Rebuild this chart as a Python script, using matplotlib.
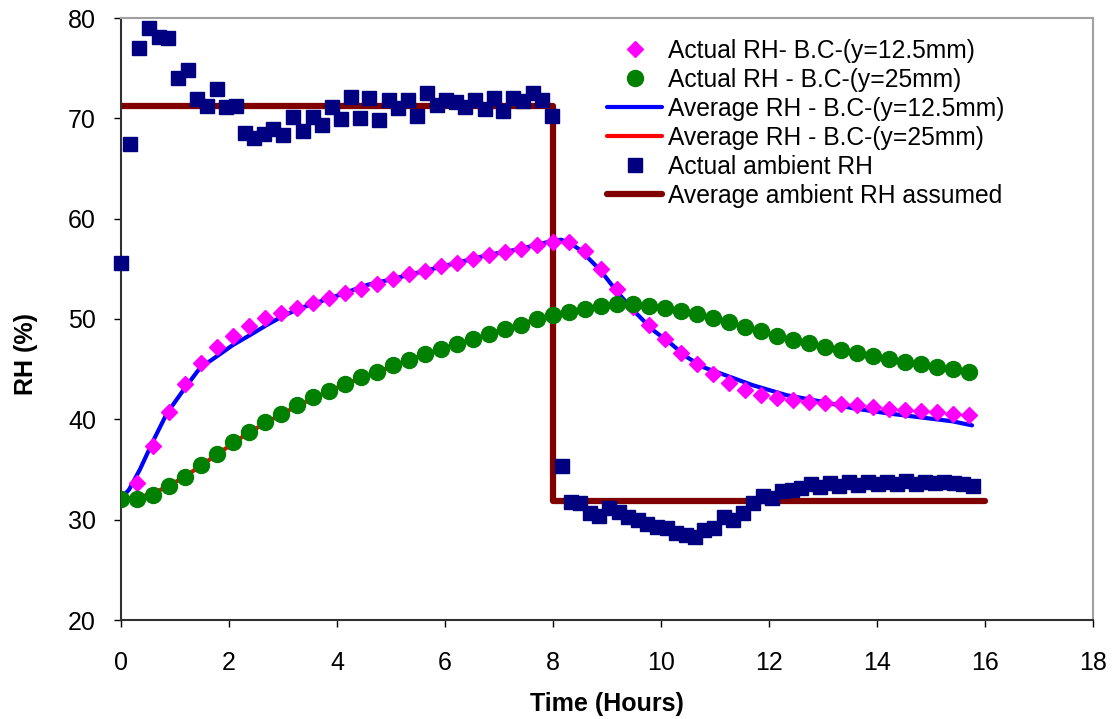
import numpy as np
import matplotlib.pyplot as plt

plt.rcParams['font.family'] = ['Liberation Sans', 'DejaVu Sans']

# Tiempos de las mediciones en los bordes (horas)
t_bc = [0.00, 0.30, 0.59, 0.89, 1.19, 1.48, 1.78, 2.07, 2.37, 2.67, 2.96, 3.26, 3.56, 3.85,
        4.15, 4.44, 4.74, 5.04, 5.33, 5.63, 5.93, 6.22, 6.52, 6.81, 7.11, 7.41, 7.70, 8.00,
        8.30, 8.59, 8.89, 9.19, 9.48, 9.78, 10.07, 10.37, 10.67, 10.96, 11.26, 11.56, 11.85,
        12.15, 12.44, 12.74, 13.04, 13.33, 13.63, 13.93, 14.22, 14.52, 14.81, 15.11, 15.41, 15.70]

rh_125 = [32.1, 33.7, 37.3, 40.7, 43.5, 45.6, 47.2, 48.3, 49.3, 50.1, 50.6, 51.1, 51.6, 52.1,
          52.6, 53.0, 53.5, 54.0, 54.5, 54.8, 55.3, 55.6, 56.0, 56.4, 56.7, 57.0, 57.4, 57.7,
          57.7, 56.8, 55.0, 53.0, 51.2, 49.4, 48.0, 46.6, 45.5, 44.5, 43.6, 42.9, 42.4, 42.1,
          41.9, 41.7, 41.6, 41.5, 41.4, 41.2, 41.0, 40.9, 40.8, 40.7, 40.5, 40.4]

rh_25 = [32.1, 32.1, 32.5, 33.4, 34.3, 35.4, 36.5, 37.7, 38.7, 39.7, 40.5, 41.4, 42.2, 42.8,
         43.5, 44.2, 44.7, 45.4, 45.9, 46.5, 47.0, 47.5, 48.0, 48.5, 49.0, 49.4, 50.0, 50.4,
         50.7, 51.0, 51.3, 51.5, 51.5, 51.3, 51.1, 50.8, 50.5, 50.1, 49.7, 49.2, 48.8, 48.3,
         47.9, 47.6, 47.2, 46.9, 46.6, 46.3, 46.0, 45.7, 45.5, 45.2, 45.0, 44.7]

# Promedio modelado (curvas continuas)
t_avg_125 = [0.0, 0.15, 0.35, 0.6, 0.85, 1.18, 1.46, 1.78, 2.07, 2.39, 2.7, 3.0, 3.33, 3.94,
             4.56, 5.04, 5.63, 6.22, 6.81, 7.41, 7.7, 8.0, 8.15, 8.3, 8.5, 8.87, 9.19, 9.48,
             9.85, 10.17, 10.48, 10.78, 11.09, 11.7, 12.33, 12.94, 13.56, 14.19, 14.8, 15.4, 15.76]
avg_125 = [32.1, 33.0, 35.0, 37.9, 40.6, 43.1, 45.1, 46.3, 47.4, 48.4, 49.4, 50.3, 51.1, 52.2,
           53.4, 54.0, 54.8, 55.6, 56.4, 57.0, 57.4, 57.8, 57.9, 57.6, 56.9, 54.9, 52.7, 50.9,
           48.9, 47.6, 46.2, 45.2, 44.6, 43.4, 42.4, 41.8, 41.1, 40.6, 40.2, 39.8, 39.4]

avg_25 = [32.1, 32.2, 32.6, 33.4, 34.3, 35.4, 36.5, 37.6, 38.7, 39.6, 40.5, 41.3, 42.1, 42.8,
          43.5, 44.1, 44.7, 45.3, 45.9, 46.5, 47.0, 47.5, 48.0, 48.5, 49.0, 49.5, 50.0, 50.4,
          50.7, 51.0, 51.3, 51.4, 51.4, 51.3, 51.1, 50.8, 50.5, 50.1, 49.7, 49.2, 48.8, 48.3,
          47.9, 47.6, 47.2, 46.9, 46.6, 46.3, 46.0, 45.7, 45.5, 45.2, 45.0, 44.7]

# Humedad ambiente medida
t_amb = [0.00, 0.17, 0.33, 0.52, 0.70, 0.87, 1.06, 1.24, 1.41, 1.59, 1.78, 1.94, 2.13, 2.30,
         2.46, 2.65, 2.81, 3.00, 3.19, 3.37, 3.56, 3.72, 3.91, 4.07, 4.26, 4.43, 4.59, 4.78,
         4.96, 5.13, 5.31, 5.48, 5.67, 5.85, 6.02, 6.20, 6.37, 6.56, 6.74, 6.91, 7.07, 7.26,
         7.44, 7.63, 7.80, 7.98,
         8.17, 8.33, 8.50, 8.69, 8.85, 9.04, 9.22, 9.39, 9.57, 9.74, 9.93, 10.11, 10.28, 10.46,
         10.63, 10.80, 10.98, 11.17, 11.33, 11.52, 11.70, 11.89, 12.06, 12.24, 12.43, 12.59,
         12.78, 12.94, 13.13, 13.30, 13.48, 13.65, 13.83, 14.02, 14.19, 14.37, 14.54, 14.72,
         14.89, 15.07, 15.24, 15.43, 15.59, 15.78]
rh_amb = [55.6, 67.4, 77.0, 79.0, 78.1, 78.0, 74.0, 74.8, 71.9, 71.2, 72.9, 71.1, 71.2, 68.5,
          68.0, 68.4, 68.9, 68.3, 70.1, 68.7, 70.1, 69.3, 71.1, 69.9, 72.1, 70.0, 72.0, 69.8,
          71.8, 71.0, 71.8, 70.2, 72.5, 71.3, 71.8, 71.6, 71.1, 71.8, 70.9, 72.0, 70.7, 72.0,
          71.7, 72.5, 71.8, 70.2,
          35.3, 31.8, 31.7, 30.7, 30.4, 31.2, 30.8, 30.3, 30.0, 29.6, 29.3, 29.2, 28.7, 28.5,
          28.3, 29.0, 29.2, 30.3, 30.0, 30.7, 31.7, 32.4, 32.2, 32.9, 33.0, 33.2,
          33.6, 33.3, 33.7, 33.4, 33.8, 33.5, 33.8, 33.6, 33.8, 33.6, 33.9, 33.6,
          33.8, 33.7, 33.8, 33.7, 33.6, 33.4]

# Ambiente supuesto (escalon a las 8 h)
t_amb_avg = [0, 8, 8, 16]
rh_amb_avg = [71.2, 71.2, 31.9, 31.9]

fig = plt.figure(figsize=(11.13, 7.19), dpi=100)
ax = fig.add_axes([121 / 1113, 1 - 620 / 719, 972 / 1113, 602 / 719])

ax.plot(t_bc, rh_125, linestyle='none', marker='D', ms=8.5, color='#FF00FF',
        label='Actual RH- B.C-(y=12.5mm)', zorder=4)
ax.plot(t_bc, rh_25, linestyle='none', marker='o', ms=11.5, color='#008000',
        label='Actual RH - B.C-(y=25mm)', zorder=5)
ax.plot(t_avg_125, avg_125, color='#0000FF', lw=3, solid_capstyle='round',
        label='Average RH - B.C-(y=12.5mm)', zorder=3)
ax.plot(t_bc, avg_25, color='#FF0000', lw=3, solid_capstyle='round',
        label='Average RH - B.C-(y=25mm)', zorder=3)
ax.plot(t_amb, rh_amb, linestyle='none', marker='s', ms=10.5, color='#000080',
        label='Actual ambient RH', zorder=6, clip_on=False)
ax.plot(t_amb_avg, rh_amb_avg, color='#800000', lw=4.5, solid_capstyle='round',
        solid_joinstyle='round', label='Average ambient RH assumed', zorder=2)

ax.set_xlim(0, 18)
ax.set_ylim(20, 80)
ax.set_xticks(np.arange(0, 19, 2))
ax.set_yticks(np.arange(20, 81, 10))
ax.tick_params(axis='both', direction='out', length=5, width=1, labelsize=18)
ax.tick_params(axis='x', pad=17)
ax.tick_params(axis='y', pad=13)

for lado in ['left', 'bottom']:
    ax.spines[lado].set_color('#303030')
    ax.spines[lado].set_linewidth(1.5)
for lado in ['top', 'right']:
    ax.spines[lado].set_color('#a0a0a0')
    ax.spines[lado].set_linewidth(1.5)

ax.set_xlabel('Time (Hours)', fontsize=18, fontweight='bold')
ax.set_ylabel('RH (%)', fontsize=18, fontweight='bold')
ax.xaxis.set_label_coords(0.5, -0.12)
ax.yaxis.set_label_coords(-0.085, 0.442)

ax.legend(loc='upper left', bbox_to_anchor=(0.5, 0.965), frameon=False, fontsize=17.7,
          handlelength=2.25, handletextpad=0.25, labelspacing=0.2, borderpad=0,
          borderaxespad=0)

plt.savefig('out.png', dpi=100)
plt.close()
